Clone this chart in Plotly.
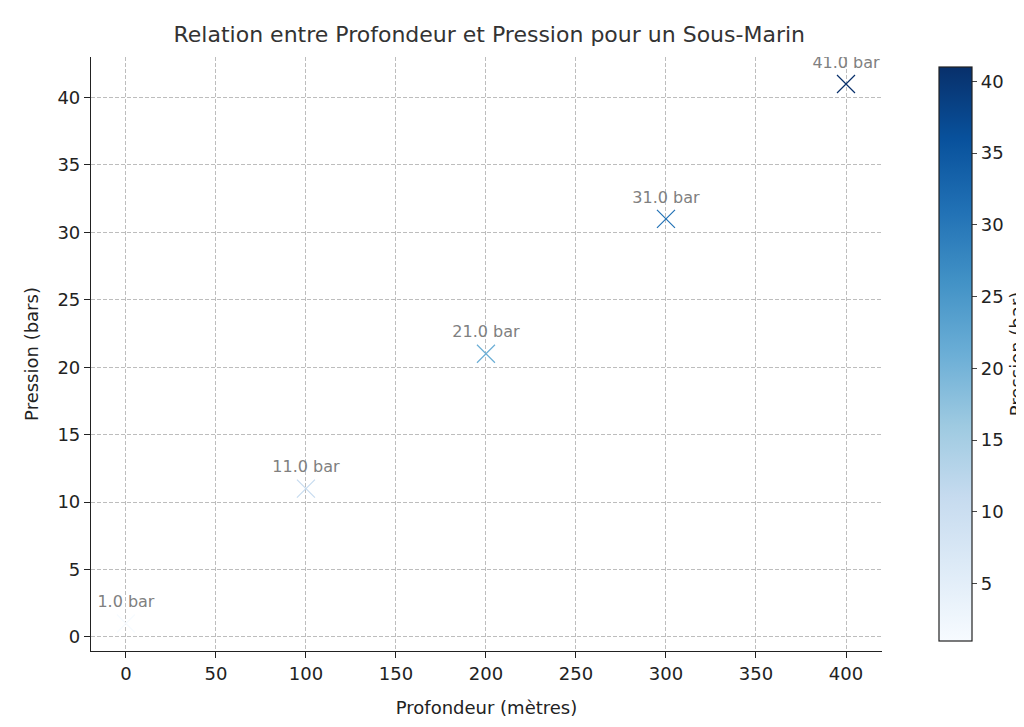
import plotly.graph_objects as go

profondeur = [0, 100, 200, 300, 400]
pression = [1.0, 11.0, 21.0, 31.0, 41.0]
etiquettes = ["{:.1f} bar".format(p) for p in pression]

grid = dict(showgrid=True, gridcolor="#bdbdbd", griddash="4px,2px", gridwidth=1,
            showline=True, linecolor="#222", linewidth=1.2, mirror=False,
            ticks="outside", ticklen=6, tickcolor="#222", zeroline=False,
            tickfont=dict(size=18, color="#222"))

fig = go.Figure()
fig.add_trace(go.Scatter(
    x=profondeur, y=pression, mode="markers+text",
    text=etiquettes, textposition="top center",
    textfont=dict(size=16, color="#808080"),
    marker=dict(symbol="x-thin-open", size=18, color=pression, colorscale="Blues",
                cmin=1, cmax=41, line=dict(width=1.2, color=pression, colorscale="Blues", cmin=1, cmax=41),
                colorbar=dict(title=dict(text="Pression (bar)", side="right", font=dict(size=18, color="#222")),
                              x=1.06, xanchor="left", len=1, y=0.5, thickness=33,
                              outlinecolor="#222", outlinewidth=1.2, ticks="outside",
                              tickvals=[5, 10, 15, 20, 25, 30, 35, 40],
                              tickfont=dict(size=18, color="#222"))),
    showlegend=False,
))

fig.update_layout(
    width=1024, height=727,
    font=dict(family="DejaVu Sans", color="#222"),
    title=dict(text="Relation entre Profondeur et Pression pour un Sous-Marin",
               x=0.47, xanchor="center", y=0.975, font=dict(size=22, color="#333")),
    plot_bgcolor="white", paper_bgcolor="white",
    margin=dict(l=83, r=150, t=49, b=84, autoexpand=False),
    xaxis=dict(title=dict(text="Profondeur (mètres)", font=dict(size=18), standoff=18),
               range=[-19.4, 420], tickvals=list(range(0, 401, 50)), **grid),
    yaxis=dict(title=dict(text="Pression (bars)", font=dict(size=18), standoff=14),
               range=[-1.04, 43], tickvals=list(range(0, 41, 5)), **grid),
)

fig.write_html("out.html")
